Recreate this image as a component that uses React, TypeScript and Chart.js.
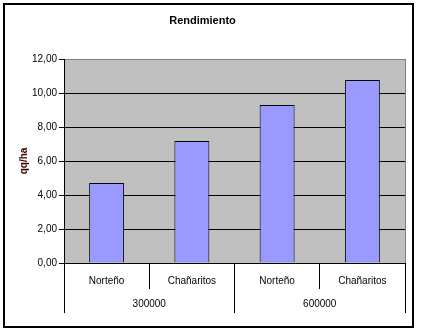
import React, { useEffect, useRef } from 'react';
import { Chart, registerables } from 'chart.js';

Chart.register(...registerables);

const categories = ['Norteño', 'Chañaritos', 'Norteño', 'Chañaritos'];
const groups = ['300000', '600000'];
const values = [4.71, 7.18, 9.29, 10.76];
const yTicks = [0, 2, 4, 6, 8, 10, 12];

const FONT = "'Liberation Sans', Arial, sans-serif";

export default function App() {
  const ref = useRef<HTMLCanvasElement>(null);

  useEffect(() => {
    document.body.style.margin = '0';
    const canvas = ref.current;
    if (!canvas) return;

    const frame = {
      id: 'frame',
      beforeDraw(chart: any) {
        const { ctx, chartArea: a } = chart;
        ctx.save();
        ctx.fillStyle = '#ffffff';
        ctx.fillRect(0, 0, chart.width, chart.height);
        ctx.fillStyle = '#C0C0C0';
        ctx.fillRect(a.left, a.top, a.right - a.left, a.bottom - a.top);
        ctx.strokeStyle = '#000000';
        ctx.lineWidth = 2;
        ctx.strokeRect(4, 4, 409, 323);
        ctx.restore();
      },
      afterDatasetsDraw(chart: any) {
        const { ctx, chartArea: a } = chart;
        ctx.save();
        ctx.strokeStyle = '#808080';
        ctx.lineWidth = 1;
        ctx.beginPath();
        ctx.moveTo(a.right + 0.5, a.top);
        ctx.lineTo(a.right + 0.5, a.bottom);
        ctx.stroke();
        ctx.restore();
      },
    };

    const chart = new Chart(canvas, {
      type: 'bar',
      data: {
        labels: categories,
        datasets: [
          {
            data: values,
            backgroundColor: '#9999FF',
            borderColor: '#000000',
            borderWidth: 1,
            categoryPercentage: 1,
            barPercentage: 0.41,
          },
        ],
      },
      options: {
        responsive: false,
        animation: false,
        devicePixelRatio: 1,
        layout: { padding: { left: 0, right: 16, top: 0, bottom: 17 } },
        plugins: {
          legend: { display: false },
          tooltip: { enabled: false },
          title: {
            display: true,
            text: 'Rendimiento',
            color: '#000000',
            font: { family: FONT, size: 11, weight: 'bold' },
            padding: { top: 14, bottom: 31.8 },
          },
        },
        scales: {
          x: {
            type: 'category',
            offset: true,
            grid: {
              offset: true,
              drawOnChartArea: false,
              tickLength: 26,
              tickColor: '#000000',
              color: '#000000',
            },
            border: { display: true, color: '#000000', width: 1 },
            ticks: {
              color: '#000000',
              font: { family: FONT, size: 10 },
              padding: -14,
              maxRotation: 0,
              autoSkip: false,
            },
            afterFit: (s: any) => {
              s.height = 26;
            },
          },
          x2: {
            type: 'category',
            labels: groups,
            position: 'bottom',
            offset: true,
            grid: {
              offset: true,
              drawOnChartArea: false,
              tickLength: 24,
              tickColor: '#000000',
              color: '#000000',
            },
            border: { display: false },
            ticks: {
              color: '#000000',
              font: { family: FONT, size: 10 },
              padding: -15,
              maxRotation: 0,
              autoSkip: false,
            },
            afterFit: (s: any) => {
              s.height = 24;
            },
          },
          y: {
            min: 0,
            max: 12,
            afterBuildTicks: (s: any) => {
              s.ticks = yTicks.map((v) => ({ value: v }));
            },
            ticks: {
              color: '#000000',
              font: { family: FONT, size: 10 },
              padding: 2,
              callback: (v: any) => Number(v).toFixed(2).replace('.', ','),
            },
            grid: {
              color: (c: any) => (c.tick && c.tick.value === 12 ? '#808080' : '#000000'),
              tickColor: '#000000',
              tickLength: 5,
              lineWidth: 1,
            },
            border: { display: true, color: '#000000', width: 1 },
            title: {
              display: true,
              text: 'qq/ha',
              color: '#400000',
              font: { family: FONT, size: 10, weight: 'bold' },
              padding: { top: 18.5, bottom: 0 },
            },
            afterFit: (s: any) => {
              s.width = 64;
            },
          },
        },
      },
      plugins: [frame],
    } as any);

    return () => {
      chart.destroy();
    };
  }, []);

  return (
    <div style={{ position: 'absolute', left: 0, top: 0, width: 421, height: 330 }}>
      <canvas ref={ref} width={421} height={330} style={{ display: 'block', width: 421, height: 330 }} />
    </div>
  );
}
